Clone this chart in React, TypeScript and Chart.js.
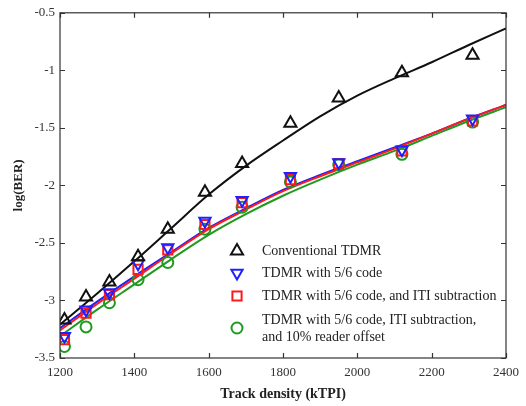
import React, { useEffect, useRef } from "react";
import { Chart, registerables } from "chart.js";

Chart.register(...registerables);

// Measured points (Track density kTPI)
const pointX = [1212, 1270, 1333, 1410, 1490, 1590, 1690, 1820, 1950, 2120, 2310];
const conventional = [-3.17, -2.97, -2.84, -2.62, -2.38, -2.06, -1.81, -1.46, -1.24, -1.02, -0.87];
const withCode = [-3.31, -3.08, -2.93, -2.68, -2.54, -2.31, -2.13, -1.92, -1.80, -1.69, -1.42];
const withITI = [-3.34, -3.11, -2.95, -2.73, -2.56, -2.34, -2.15, -1.95, -1.81, -1.70, -1.44];
const withOffset = [-3.40, -3.23, -3.02, -2.82, -2.67, -2.38, -2.19, -1.97, -1.82, -1.73, -1.45];

// Fitted curves, read at these densities
const fitX = [1200, 1300, 1400, 1500, 1600, 1700, 1800, 1900, 2000, 2100, 2200, 2300, 2400];
const fitConventional = [-3.21, -2.94, -2.66, -2.37, -2.08, -1.83, -1.61, -1.40, -1.22, -1.07, -0.93, -0.78, -0.635];
const fitCode = [-3.24, -3.01, -2.79, -2.58, -2.37, -2.20, -2.04, -1.91, -1.79, -1.67, -1.55, -1.42, -1.30];
const fitITI = [-3.26, -3.03, -2.81, -2.59, -2.38, -2.21, -2.05, -1.92, -1.80, -1.68, -1.55, -1.42, -1.30];
const fitOffset = [-3.31, -3.08, -2.86, -2.64, -2.43, -2.25, -2.09, -1.95, -1.82, -1.70, -1.57, -1.44, -1.32];

const legendLabels = [
  ["Conventional TDMR"],
  ["TDMR with 5/6 code"],
  ["TDMR with 5/6 code, and ITI subtraction"],
  ["TDMR with 5/6 code, ITI subtraction,", "and 10% reader offset"],
];

const xTicks = [1200, 1400, 1600, 1800, 2000, 2200, 2400];
const yTicks = [-3.5, -3, -2.5, -2, -1.5, -1, -0.5];

const BLACK = "#111111";
const BLUE = "#2020ff";
const RED = "#ff1a1a";
const GREEN = "#1f9a1f";

const FONT = "'Liberation Serif', 'Times New Roman', serif";

const pts = (xs: number[], ys: number[]) => xs.map((x, i) => ({ x, y: ys[i] }));

const markerSets = [
  { style: "triangle", rotation: 0, color: BLACK, radius: 7 },
  { style: "triangle", rotation: 180, color: BLUE, radius: 6.5 },
  { style: "rect", rotation: 0, color: RED, radius: 6.5 },
  { style: "circle", rotation: 0, color: GREEN, radius: 5.5 },
];

function drawMarker(ctx: CanvasRenderingContext2D, m: any, x: number, y: number) {
  const r = m.radius;
  ctx.save();
  ctx.strokeStyle = m.color;
  ctx.lineWidth = 2;
  ctx.beginPath();
  if (m.style === "triangle") {
    const s = m.rotation === 180 ? -1 : 1;
    const h = r * Math.sin(Math.PI / 3);
    ctx.moveTo(x, y - s * r);
    ctx.lineTo(x - h, y + s * r / 2);
    ctx.lineTo(x + h, y + s * r / 2);
    ctx.closePath();
  } else if (m.style === "rect") {
    const a = r * Math.SQRT1_2;
    ctx.rect(x - a, y - a, 2 * a, 2 * a);
  } else {
    ctx.arc(x, y, r, 0, Math.PI * 2);
  }
  ctx.stroke();
  ctx.restore();
}

export default function App() {
  const ref = useRef<HTMLCanvasElement | null>(null);

  useEffect(() => {
    document.body.style.margin = "0";
    const canvas = ref.current;
    if (!canvas) return;

    const boxPlugin = {
      id: "boxAndLegend",
      afterDraw(chart: any) {
        const { ctx, chartArea } = chart;
        const { left, right, top, bottom } = chartArea;
        const xs = chart.scales.x;
        const ys = chart.scales.y;
        ctx.save();
        ctx.strokeStyle = "#333";
        ctx.lineWidth = 1.2;
        ctx.strokeRect(left, top, right - left, bottom - top);
        ctx.beginPath();
        const tl = 5;
        xTicks.forEach((v) => {
          const px = Math.round(xs.getPixelForValue(v)) + 0.5;
          ctx.moveTo(px, bottom);
          ctx.lineTo(px, bottom - tl);
          ctx.moveTo(px, top);
          ctx.lineTo(px, top + tl);
        });
        yTicks.forEach((v) => {
          const py = Math.round(ys.getPixelForValue(v)) + 0.5;
          ctx.moveTo(left, py);
          ctx.lineTo(left + tl, py);
          ctx.moveTo(right, py);
          ctx.lineTo(right - tl, py);
        });
        ctx.stroke();

        // legend
        const mx = 237;
        const tx = 262;
        const rows = [251, 273, 296, 328];
        ctx.font = `14px ${FONT}`;
        ctx.fillStyle = "#222";
        ctx.textBaseline = "middle";
        ctx.textAlign = "left";
        legendLabels.forEach((lines, i) => {
          const y = rows[i];
          drawMarker(ctx, markerSets[i], mx, y);
          if (lines.length === 1) {
            ctx.fillText(lines[0], tx, y);
          } else {
            ctx.fillText(lines[0], tx, y - 8);
            ctx.fillText(lines[1], tx, y + 9);
          }
        });
        ctx.restore();
      },
    };

    const lineDs = (label: string, data: number[], color: string, order: number) => ({
      label,
      data: pts(fitX, data),
      showLine: true,
      borderColor: color,
      backgroundColor: color,
      borderWidth: 2,
      pointRadius: 0,
      cubicInterpolationMode: "monotone" as const,
      order,
    });
    const markDs = (label: string, data: number[], i: number, order: number) => {
      const m = markerSets[i];
      return {
        label,
        data: pts(pointX, data),
        showLine: false,
        borderColor: m.color,
        backgroundColor: "rgba(0,0,0,0)",
        pointStyle: m.style,
        rotation: m.rotation,
        pointRadius: m.radius,
        pointBorderWidth: 2,
        order,
      };
    };

    const chart = new Chart(canvas, {
      type: "scatter",
      data: {
        datasets: [
          markDs("Conventional TDMR", conventional, 0, 1),
          markDs("TDMR with 5/6 code", withCode, 1, 2),
          markDs("TDMR with 5/6 code, and ITI subtraction", withITI, 2, 3),
          markDs("TDMR with 5/6 code, ITI subtraction, and 10% reader offset", withOffset, 3, 4),
          lineDs("fit conventional", fitConventional, BLACK, 5),
          lineDs("fit code", fitCode, BLUE, 7),
          lineDs("fit ITI", fitITI, RED, 6),
          lineDs("fit offset", fitOffset, GREEN, 8),
        ] as any,
      },
      options: {
        animation: false,
        responsive: false,
        devicePixelRatio: 1,
        layout: { padding: { left: 0, right: 16, top: 11, bottom: 0 } },
        plugins: {
          legend: { display: false },
          tooltip: { enabled: false },
        },
        scales: {
          x: {
            type: "linear",
            min: 1200,
            max: 2400,
            afterBuildTicks: (s: any) => {
              s.ticks = xTicks.map((v) => ({ value: v }));
            },
            afterFit: (s: any) => {
              s.height = 48;
            },
            grid: { display: false, drawTicks: false },
            border: { display: false },
            ticks: {
              padding: 7,
              color: "#333",
              font: { family: FONT, size: 13 },
              maxRotation: 0,
              callback: (v: any) => String(v),
            },
            title: {
              display: true,
              text: "Track density (kTPI)",
              color: "#222",
              font: { family: FONT, size: 14, weight: "bold" },
              padding: { top: 0, bottom: 3 },
            },
          },
          y: {
            type: "linear",
            min: -3.5,
            max: -0.5,
            afterBuildTicks: (s: any) => {
              s.ticks = yTicks.map((v) => ({ value: v }));
            },
            afterFit: (s: any) => {
              s.width = 60;
            },
            grid: { display: false, drawTicks: false },
            border: { display: false },
            ticks: {
              padding: 5,
              color: "#333",
              font: { family: FONT, size: 13 },
              callback: (v: any) => String(v),
            },
            title: {
              display: true,
              text: "log(BER)",
              color: "#222",
              font: { family: FONT, size: 13, weight: "bold" },
              padding: { top: 11, bottom: 0 },
            },
          },
        },
      } as any,
      plugins: [boxPlugin],
    });

    return () => chart.destroy();
  }, []);

  return (
    <div style={{ width: 526, height: 406, background: "#fff" }}>
      <canvas ref={ref} width={526} height={406} />
    </div>
  );
}
